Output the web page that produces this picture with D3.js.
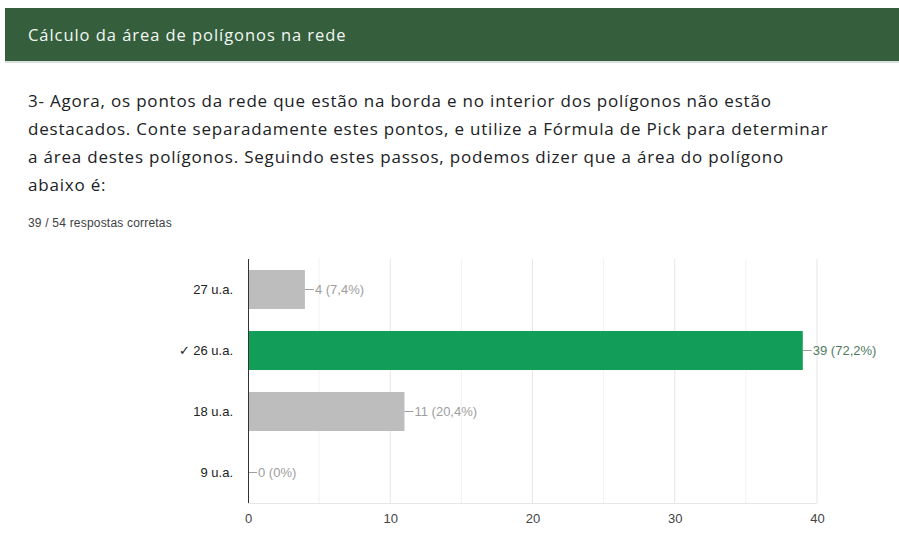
<!DOCTYPE html>
<html>
<head>
<meta charset="utf-8">
<script src="https://cdn.jsdelivr.net/npm/d3@7"></script>
<style>
  html, body { margin: 0; padding: 0; background: #fff; }
  svg { display: block; }
</style>
</head>
<body>
<svg id="chart" width="899" height="533"></svg>
<script>
// Responses to question 3 (Pick's formula, area of the polygon)
const categories = ["27 u.a.", "✓ 26 u.a.", "18 u.a.", "9 u.a."];
const counts = [4, 39, 11, 0];
const percentLabels = ["7,4%", "72,2%", "20,4%", "0%"];
const correctIndex = 1;
const xTicks = [0, 10, 20, 30, 40];
const minorTicks = [5, 15, 25, 35];

const sectionTitle = "Cálculo da área de polígonos na rede";
const questionLines = [
  "3- Agora, os pontos da rede que estão na borda e no interior dos polígonos não estão",
  "destacados. Conte separadamente estes pontos, e utilize a Fórmula de Pick para determinar",
  "a área destes polígonos. Seguindo estes passos, podemos dizer que a área do polígono",
  "abaixo é:"
];
const scoreText = "39 / 54 respostas corretas";

const svg = d3.select("#chart");
const sansUI = "'Open Sans', 'Noto Sans', sans-serif";
const sansChart = "'Liberation Sans', Arial, sans-serif";

// Section header band
svg.append("rect").attr("x", 5).attr("y", 8).attr("width", 894).attr("height", 53)
  .attr("fill", "#345e3c");
svg.append("rect").attr("x", 5).attr("y", 61).attr("width", 894).attr("height", 2)
  .attr("fill", "#d9dfdb");
svg.append("text").attr("x", 28).attr("y", 41)
  .attr("font-family", sansUI).attr("font-size", 16.5).attr("letter-spacing", 0.95)
  .attr("fill", "#f3f7f3")
  .text(sectionTitle);

// Question text
svg.append("g").selectAll("text").data(questionLines).join("text")
  .attr("x", 28).attr("y", (d, i) => 107 + i * 28)
  .attr("font-family", sansUI).attr("font-size", 17).attr("letter-spacing", 0.8)
  .attr("fill", "#202124")
  .text(d => d);

svg.append("text").attr("x", 28).attr("y", 227)
  .attr("font-family", sansChart).attr("font-size", 12).attr("letter-spacing", 0.2)
  .attr("fill", "#3c4043")
  .text(scoreText);

// Bar chart
const plot = { left: 248, right: 817, top: 259, bottom: 503 };
const x = d3.scaleLinear().domain([0, 40]).range([plot.left, plot.right]);
const y = d3.scaleBand().domain(categories).range([plot.top, plot.bottom]).paddingInner(0.36).paddingOuter(0.18);

const g = svg.append("g");

// gridlines
g.selectAll("line.minor").data(minorTicks).join("line")
  .attr("x1", d => x(d)).attr("x2", d => x(d))
  .attr("y1", plot.top).attr("y2", plot.bottom)
  .attr("stroke", "#f2f2f2").attr("stroke-width", 1);
g.selectAll("line.major").data(xTicks.slice(1)).join("line")
  .attr("x1", d => x(d)).attr("x2", d => x(d))
  .attr("y1", plot.top).attr("y2", plot.bottom)
  .attr("stroke", "#e6e6e6").attr("stroke-width", 1);
g.append("line").attr("x1", plot.left).attr("x2", plot.right)
  .attr("y1", plot.bottom + 0.5).attr("y2", plot.bottom + 0.5)
  .attr("stroke", "#e6e6e6");

// x axis tick labels
const xAxis = d3.axisBottom(x).tickValues(xTicks).tickSize(0).tickPadding(11);
const ax = g.append("g").attr("transform", `translate(0,${plot.bottom})`).call(xAxis);
ax.select(".domain").remove();
ax.selectAll("text").attr("font-family", sansChart).attr("font-size", 13).attr("fill", "#444");

// bars
g.selectAll("rect.bar").data(counts).join("rect")
  .attr("class", "bar")
  .attr("x", x(0))
  .attr("y", (d, i) => y(categories[i]))
  .attr("width", d => x(d) - x(0))
  .attr("height", y.bandwidth())
  .attr("fill", (d, i) => i === correctIndex ? "#129d58" : "#bdbdbd");

// value leaders and labels
const lab = g.selectAll("g.lab").data(counts).join("g")
  .attr("transform", (d, i) => `translate(${x(d)},${y(categories[i]) + y.bandwidth() / 2})`);
lab.append("line").attr("x1", 0).attr("x2", 9).attr("y1", 0).attr("y2", 0)
  .attr("stroke", "#9e9e9e").attr("stroke-width", 1);
lab.append("text").attr("x", 10).attr("dy", "0.35em")
  .attr("font-family", sansChart).attr("font-size", 13)
  .attr("fill", (d, i) => i === correctIndex ? "#4f7a5e" : "#9e9e9e")
  .text((d, i) => `${d} (${percentLabels[i]})`);

// left axis line and category labels
g.append("line").attr("x1", plot.left + 0.5).attr("x2", plot.left + 0.5)
  .attr("y1", plot.top).attr("y2", plot.bottom)
  .attr("stroke", "#333").attr("stroke-width", 1);
const yAxis = d3.axisLeft(y).tickSize(0).tickPadding(15);
const ay = g.append("g").attr("transform", `translate(${plot.left},0)`).call(yAxis);
ay.select(".domain").remove();
ay.selectAll("text").attr("font-family", sansChart).attr("font-size", 13).attr("fill", "#222");
</script>
</body>
</html>
